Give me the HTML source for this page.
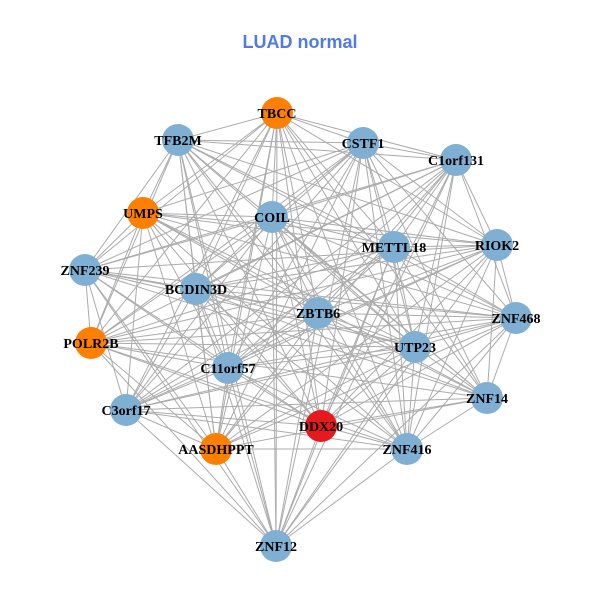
<!DOCTYPE html>
<html><head><meta charset="utf-8"><style>
html,body{margin:0;padding:0;background:#fff;}
svg{display:block}
</style></head><body>
<svg id="s" width="600" height="600" xmlns="http://www.w3.org/2000/svg">
<rect width="600" height="600" fill="#fff"/>
<text x="300" y="48" text-anchor="middle" font-family="Liberation Sans, sans-serif" font-weight="bold" font-size="18" fill="#4f7ae8">LUAD normal</text>
<g id="e" stroke="#ababab" stroke-width="1"></g>
<g id="n"></g>
</svg>
<script>
var N=[["TBCC",277,113,"#ff7f00"],["TFB2M",178,140,"#7fb0d4"],["CSTF1",363,143,"#7fb0d4"],["C1orf131",456,160,"#7fb0d4"],
["UMPS",143,213,"#ff7f00"],["COIL",272,217,"#7fb0d4"],["METTL18",394,247,"#7fb0d4"],["RIOK2",497,245,"#7fb0d4"],
["ZNF239",85,270,"#7fb0d4"],["BCDIN3D",196,289,"#7fb0d4"],["ZBTB6",318,313,"#7fb0d4"],["ZNF468",516,318,"#7fb0d4"],
["POLR2B",91,343,"#ff7f00"],["UTP23",415,347,"#7fb0d4"],["C11orf57",228,368,"#7fb0d4"],["ZNF14",487,398,"#7fb0d4"],
["C3orf17",126,410,"#7fb0d4"],["DDX20",321,426,"#e41a1c"],["ZNF416",407,449,"#7fb0d4"],["AASDHPPT",216,449,"#ff7f00"],
["ZNF12",276,546,"#7fb0d4"]];
var ns="http://www.w3.org/2000/svg",e=document.getElementById("e"),g=document.getElementById("n");
for(var i=0;i<N.length;i++)for(var j=i+1;j<N.length;j++){
 if((i*7+j*3)%11==0)continue;
 var l=document.createElementNS(ns,"line");
 l.setAttribute("x1",N[i][1]);l.setAttribute("y1",N[i][2]);l.setAttribute("x2",N[j][1]);l.setAttribute("y2",N[j][2]);e.appendChild(l);}
N.forEach(function(a){var c=document.createElementNS(ns,"circle");c.setAttribute("cx",a[1]);c.setAttribute("cy",a[2]);c.setAttribute("r",16);c.setAttribute("fill",a[3]);g.appendChild(c);});
N.forEach(function(a){var t=document.createElementNS(ns,"text");t.setAttribute("x",a[1]);t.setAttribute("y",a[2]+5);t.setAttribute("text-anchor","middle");t.setAttribute("font-family","Liberation Serif, serif");t.setAttribute("font-weight","bold");t.setAttribute("font-size","14");t.textContent=a[0];g.appendChild(t);});
</script>
</body></html>
